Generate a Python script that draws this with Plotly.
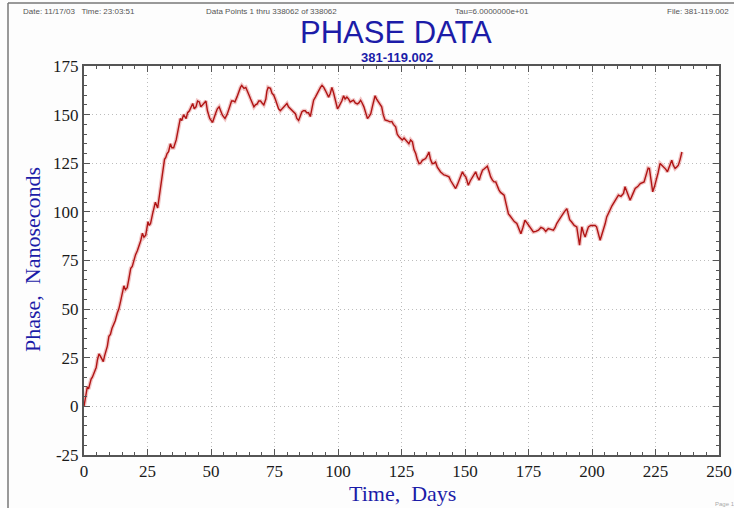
import plotly.graph_objects as go

# Elapsed time (days) and measured phase (ns) along the record
days = [
    0, 0.4, 0.8, 1.3, 1.8, 2.3, 2.8, 3.3, 3.8, 4.3, 4.8, 5.3, 5.9, 6.4, 7.0, 7.6,
    8.1, 8.6, 9.2, 9.8, 10.4, 11.0, 11.6, 12.3, 13.1, 13.7, 14.4, 15.0, 15.7, 16.3,
    17.0, 17.6, 18.4, 19.0, 19.7, 20.3, 21.0, 21.6, 22.3, 23.0, 23.6, 24.3, 25.2,
    25.7, 26.2, 27.0, 28.1, 29.0, 29.6, 30.4, 31.0, 31.7, 32.2, 32.7, 33.3, 34.0,
    34.6, 35.3, 36.3, 37.0, 37.9, 38.5, 39.2, 40.2, 40.8, 41.5, 42.2, 42.8, 43.4,
    44.1, 44.7, 45.4, 46.0, 46.7, 47.3, 48.0, 48.6, 49.5, 50.6, 51.2, 51.9, 52.5,
    53.2, 53.8, 54.5, 55.5, 56.3, 57.1, 58.1, 58.8, 59.4, 60.2, 61.0, 61.6, 62.1,
    62.6, 63.0, 63.7, 64.3, 65.0, 65.6, 66.3, 66.9, 67.5, 68.2, 68.8, 69.5, 70.1,
    70.8, 71.6, 72.0, 72.5, 73.4, 74.0, 74.7, 75.3, 76.0, 76.6, 77.3, 78.0, 78.6,
    79.3, 79.9, 80.5, 81.2, 81.9, 82.5, 83.2, 83.8, 84.5, 85.1, 85.8, 86.4, 87.1,
    87.7, 88.4, 89.1, 89.8, 90.4, 91.1, 91.8, 92.4, 93.1, 93.7, 94.4, 95.0, 95.6,
    96.3, 97.0, 97.6, 98.3, 98.9, 99.8, 100.3, 100.9, 101.5, 102.2, 102.8, 103.5,
    104.2, 104.8, 105.4, 106.1, 106.8, 107.6, 108.2, 108.9, 109.5, 110.2, 110.9,
    111.6, 112.2, 112.9, 113.7, 114.6, 115.2, 115.9, 116.5, 117.2, 117.8, 118.5,
    119.2, 119.8, 120.5, 121.2, 121.8, 122.7, 123.3, 124.0, 124.6, 125.3, 126.0,
    126.6, 127.3, 127.9, 128.6, 129.3, 129.9, 130.6, 131.2, 131.9, 132.5, 133.2,
    133.9, 134.5, 135.2, 135.8, 136.4, 137.1, 137.8, 138.4, 139.1, 139.8, 140.4,
    141.1, 141.7, 142.4, 143.0, 143.7, 144.4, 145.0, 145.6, 146.3, 147.0, 147.7,
    148.3, 149.0, 149.6, 150.3, 150.8, 151.3, 152.1, 152.9, 153.5, 154.2, 154.9,
    155.6, 156.2, 156.9, 157.5, 158.2, 158.8, 159.5, 160.1, 160.8, 161.4, 162.1,
    162.7, 163.4, 164.0, 164.7, 165.4, 166.2, 167.1, 167.7, 168.4, 169.4, 170.4,
    171.2, 172.0, 172.8, 173.6, 174.6, 175.6, 176.3, 176.9, 177.9, 178.9, 179.9,
    180.9, 181.8, 182.8, 183.8, 184.8, 185.5, 186.1, 187.1, 188.1, 189.1, 190.1,
    190.6, 191.2, 192.0, 193.0, 194.0, 194.6, 195.1, 195.6, 196.0, 196.7, 197.3,
    198.0, 198.6, 199.5, 200.5, 201.2, 201.8, 202.5, 203.2, 203.8, 204.5, 205.2,
    205.8, 206.5, 207.1, 207.8, 208.4, 209.4, 210.4, 211.4, 212.4, 213.0, 214.0,
    215.0, 216.0, 217.0, 218.0, 219.0, 220.5, 221.0, 221.6, 222.1, 222.6, 223.2,
    223.9, 224.6, 225.3, 226.0, 226.8, 227.6, 228.4, 229.0, 229.7, 230.5, 231.4,
    232.0, 232.7, 233.3, 234.0, 234.7, 235.4,
]
phase_ns = [
    0, 3, 8, 10, 9, 12, 14, 15, 17, 19, 20, 24, 27, 26, 24, 23,
    26, 28, 31, 36, 37, 40, 42, 44, 48, 50, 54, 57, 62, 60,
    61, 65, 71, 72, 76, 78, 80, 82, 85, 89, 87, 88, 95,
    93, 94, 99, 105, 102, 108, 114, 120, 127, 128, 130, 131, 135,
    133, 133, 137, 142, 148, 147, 150, 148, 151, 152, 154, 155.7, 153,
    154, 157, 156.5, 154, 155, 156, 157, 152, 148, 146, 149, 151, 153,
    154, 152, 149.7, 148, 150, 153, 157, 157, 156.5, 159, 162.5, 164, 165,
    164, 163.5, 164, 162.5, 160, 158, 156, 154, 155, 155.5, 157, 157, 156,
    155, 158, 162, 164, 163.5, 161, 160, 158, 155.5, 153, 152, 153, 154,
    155, 155.7, 154, 153, 152, 151, 150.5, 148, 147, 149, 151.5, 152, 152,
    151, 151, 149, 153, 157.4, 159, 161, 162.5, 164, 165, 164, 162.5, 161,
    159, 161, 164, 161, 158, 153, 154, 155.5, 157, 159.7, 158, 159,
    158, 156.5, 157, 157.4, 156, 155.5, 156, 157.4, 156, 154, 151,
    148, 149, 150.5, 155, 159.7, 158, 156.5, 155.7, 154, 150, 147.3,
    147, 146.5, 146.3, 146.5, 145, 143.7, 140, 138.6, 138, 137, 138,
    137, 136, 135, 137, 136, 132, 130, 127, 124.8, 125, 126.5,
    127, 127.4, 129, 130.8, 127, 124.8, 125, 125.7, 123, 121.4, 120.5,
    119.7, 119, 118.8, 118.5, 118, 116, 114.6, 113, 112, 114, 116.3,
    118, 120.6, 119, 118, 116, 113.7, 116, 118, 119, 120.6, 118,
    116.3, 119, 121.4, 122, 123.1, 123.5, 120.6, 118, 116.3, 115.5, 115.4,
    113, 111.2, 110, 109.5, 108.6, 104, 99, 98, 96.6, 95, 94,
    91, 88.8, 92, 95.7, 94, 92.3, 91, 89.7, 90, 90.6, 92,
    91.4, 90, 91.4, 91, 90.6, 92, 94, 96, 98.3, 100, 101.7,
    99, 96, 94.8, 93, 92.3, 87, 82.9, 88, 92.3, 89, 87.1,
    90, 92.3, 93, 93.1, 93, 92.3, 88, 85.4, 88, 90.6, 94,
    97.4, 99, 101, 103, 104.3, 106, 108.6, 108, 109.5, 112.9, 109,
    106, 109, 112, 113, 114.6, 115.4, 118, 121.4, 122.5, 122.3, 117,
    110.3, 113, 116.3, 120, 124.9, 124, 123.1, 122, 120.6, 123, 126.6,
    124, 122.3, 123, 124, 127, 130.8,
]

x_ticks = [0, 25, 50, 75, 100, 125, 150, 175, 200, 225, 250]
y_ticks = [-25, 0, 25, 50, 75, 100, 125, 150, 175]

W, H = 734, 508
L, R, T, B = 84, 15, 66, 53
PW, PH = W - L - R, H - T - B


def px(xp):
    return (xp - L) / PW


def py(yp):
    return (H - B - yp) / PH


fig = go.Figure()

# soft halo giving the dense record its thickness
fig.add_trace(go.Scatter(
    x=days, y=phase_ns, mode="lines",
    line=dict(color="rgba(205,50,50,0.28)", width=4),
    hoverinfo="skip", showlegend=False,
))
fig.add_trace(go.Scatter(
    x=days, y=phase_ns, mode="lines",
    line=dict(color="#b01414", width=1.4),
    showlegend=False,
))

axis_common = dict(
    showline=True, linecolor="#555555", linewidth=2, mirror="allticks",
    ticks="inside", ticklen=6, tickwidth=1, tickcolor="#555555",
    showgrid=True, gridcolor="#bdbdbd", gridwidth=1, griddash="1px,3px",
    zeroline=False,
    tickfont=dict(family="Liberation Serif", size=17, color="#1a1a1a"),
    minor=dict(ticks="inside", ticklen=3, tickcolor="#555555", dtick=5, showgrid=False),
)

fig.update_xaxes(range=[0, 250], tickmode="array", tickvals=x_ticks,
                 ticktext=[str(v) for v in x_ticks], **axis_common)
fig.update_yaxes(range=[-25, 175], tickmode="array", tickvals=y_ticks,
                 ticktext=[str(v) for v in y_ticks], **axis_common)

header_font = dict(family="Liberation Sans", size=8, color="#555555")
annotations = [
    dict(text="Date: 11/17/03   Time: 23:03:51", x=px(21), y=py(11), xanchor="left", font=header_font),
    dict(text="Data Points 1 thru 338062 of 338062", x=px(204), y=py(11), xanchor="left", font=header_font),
    dict(text="Tau=6.0000000e+01", x=px(453), y=py(11), xanchor="left", font=header_font),
    dict(text="File: 381-119.002", x=px(731), y=py(11), xanchor="right", font=header_font),
    dict(text="PHASE DATA", x=px(396), y=py(32),
         font=dict(family="Liberation Sans", size=31, color="#1c1ca8")),
    dict(text="<b>381-119.002</b>", x=px(397), y=py(57),
         font=dict(family="Liberation Sans", size=13, color="#1c1ca8")),
    dict(text="Time,  Days", x=px(402), y=py(493),
         font=dict(family="Liberation Serif", size=22, color="#1c1ca8")),
    dict(text="Phase,  Nanoseconds", x=px(32), y=py(260), textangle=-90,
         font=dict(family="Liberation Serif", size=22, color="#1c1ca8")),
    dict(text="Page 1", x=px(713), y=py(504), xanchor="left",
         font=dict(family="Liberation Sans", size=6, color="#aaaaaa")),
]
for a in annotations:
    a.update(xref="paper", yref="paper", showarrow=False, yanchor="middle")
    a.setdefault("xanchor", "center")

shapes = [
    dict(type="line", xref="paper", yref="paper", x0=px(8), x1=px(8), y0=py(3), y1=py(H),
         line=dict(color="#777777", width=1.5)),
    dict(type="line", xref="paper", yref="paper", x0=px(8), x1=px(W), y0=py(3), y1=py(3),
         line=dict(color="#777777", width=1.5)),
]

fig.update_layout(
    width=W, height=H,
    margin=dict(l=L, r=R, t=T, b=B, autoexpand=False),
    paper_bgcolor="#fdfdfd", plot_bgcolor="#ffffff",
    annotations=annotations, shapes=shapes,
    showlegend=False,
)

fig.write_html("out.html")
